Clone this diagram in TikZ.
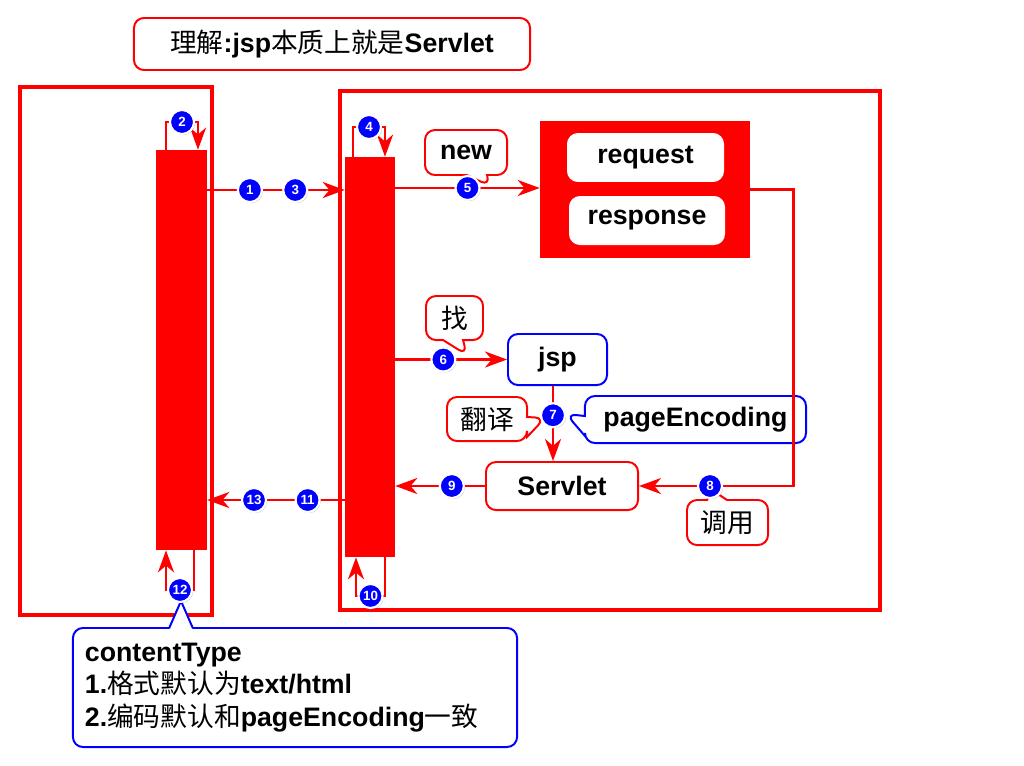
\documentclass[tikz,border=0pt]{standalone}
\usepackage{fontspec}
\setmainfont{Liberation Sans}
\newfontfamily\zhfont{Noto Sans CJK SC}
\usetikzlibrary{arrows.meta,shapes.callouts,shadows}
\newcommand\cn[1]{{\zhfont\mdseries #1}}

\begin{document}
\begin{tikzpicture}[x=0.025cm,y=-0.025cm,
    every node/.style={font=\fontsize{19}{23}\selectfont\bfseries},
    frame/.style={draw=red,line width=2.2pt},
    bar/.style={fill=red,inner sep=0},
    flow/.style={draw=red,line width=2pt,-{Stealth[length=0.55cm,width=0.4cm,inset=0.17cm]}},
    box/.style={draw=red,fill=white,rounded corners=0.25cm,line width=1.4pt,inner sep=0},
    note/.style={rectangle callout,draw=red,fill=white,rounded corners=0.25cm,line width=1.4pt,
        inner sep=0,callout pointer width=0.5cm},
    badge/.style={circle,fill=blue,draw=white,line width=1.5pt,text=white,inner sep=0,
        minimum size=0.6cm,font=\fontsize{9.5}{9.5}\selectfont\bfseries,
        drop shadow={shadow xshift=0.8pt,shadow yshift=-0.8pt,opacity=0.45}}]
    \useasboundingbox (0,0) rectangle (1024,765);

    % title and frames
    \node[box,minimum width=9.9cm,minimum height=1.3cm] (title) at (332,44)
        {\cn{理解}:jsp\cn{本质上就是}Servlet};
    \draw[frame] (20,87) rectangle (212,615);
    \draw[frame] (340,91) rectangle (880,610);

    % bars
    \node[bar,minimum width=1.275cm,minimum height=10cm] (lbar) at (181.5,350) {};
    \node[bar,minimum width=1.25cm,minimum height=10cm] (mbar) at (370,357) {};

    % request / response
    \node[bar,minimum width=5.25cm,minimum height=3.425cm] (reqres) at (645,189.5) {};
    \node[box,draw=white,minimum width=3.875cm,minimum height=1.175cm] (req) at (645.5,157.5) {request};
    \node[box,draw=white,minimum width=3.85cm,minimum height=1.175cm] (resp) at (647,220.5) {response};

    % jsp and servlet
    \node[box,draw=blue,minimum width=2.475cm,minimum height=1.275cm] (jsp) at (557.5,359.5) {jsp};
    \node[box,minimum width=3.8cm,minimum height=1.2cm] (servlet) at (562,486) {Servlet};

    % notes
    \node[note,minimum width=2.05cm,minimum height=1.125cm,callout absolute pointer={(490,186)}] (new) at (466,152.5) {new};
    \node[note,minimum width=1.425cm,minimum height=1.1cm,callout absolute pointer={(467,355)}] (find) at (454.5,318) {\cn{找}};
    \node[note,minimum width=2cm,minimum height=1.1cm,callout absolute pointer={(545,418)}] (translate) at (487,419) {\cn{翻译}};
    \node[note,draw=blue,minimum width=5.525cm,minimum height=1.175cm,callout absolute pointer={(566,414)}] (pageenc) at (695.5,419.5) {pageEncoding};
    \node[note,minimum width=2.025cm,minimum height=1.125cm,callout absolute pointer={(712,490)}] (invoke) at (727.5,522.5) {\cn{调用}};
    \node[box,draw=blue,minimum width=11.1cm,minimum height=2.975cm,text width=10.5cm,align=left] (ctype) at (295,687.5)
        {contentType\\1.\cn{格式默认为}text/html\\2.\cn{编码默认和}pageEncoding\cn{一致}};
    \coordinate (ctip) at (181,601);
    \fill[white] (169,629) -- (ctip) -- (193,629) -- cycle;
    \draw[blue,line width=1.4pt,line join=round] (169,628.5) -- (ctip) -- (193,628.5);

    % flows
    \draw[flow] (lbar.east |- 0,190) -- (mbar.west |- 0,190) node[badge,pos=0.31]{1} node[badge,pos=0.64]{3};
    \draw[flow] (lbar.north -| 166,0) |- (198,122) node[badge,pos=0.75]{2} -- (lbar.north -| 198,0);
    \draw[flow] (mbar.north -| 353,0) |- (385,127) node[badge,pos=0.75]{4} -- (mbar.north -| 385,0);
    \draw[flow] (mbar.east |- 0,188) -- (reqres.west |- 0,188) node[badge,pos=0.5]{5};
    \draw[flow] (mbar.east |- jsp.west) -- (jsp.west) node[badge,pos=0.43]{6};
    \draw[flow] (jsp.south -| 553,0) -- (servlet.north -| 553,0) node[badge,pos=0.39]{7};
    \draw[flow] (reqres.east) -- ++(43,0) |- (servlet.east) node[badge,pos=0.77]{8};
    \draw[flow] (servlet.west) -- (mbar.east |- servlet.west) node[badge,pos=0.37]{9};
    \draw[flow] (mbar.south -| 385,0) |- (356,596) node[badge,pos=0.75]{10} -- (mbar.south -| 356,0);
    \draw[flow] (mbar.west |- 0,500) -- (lbar.east |- 0,500) node[badge,pos=0.27]{11} node[badge,pos=0.66]{13};
    \draw[flow] (lbar.south -| 194,0) |- (166,590) node[badge,pos=0.75]{12} -- (lbar.south -| 166,0);
\end{tikzpicture}
\end{document}
